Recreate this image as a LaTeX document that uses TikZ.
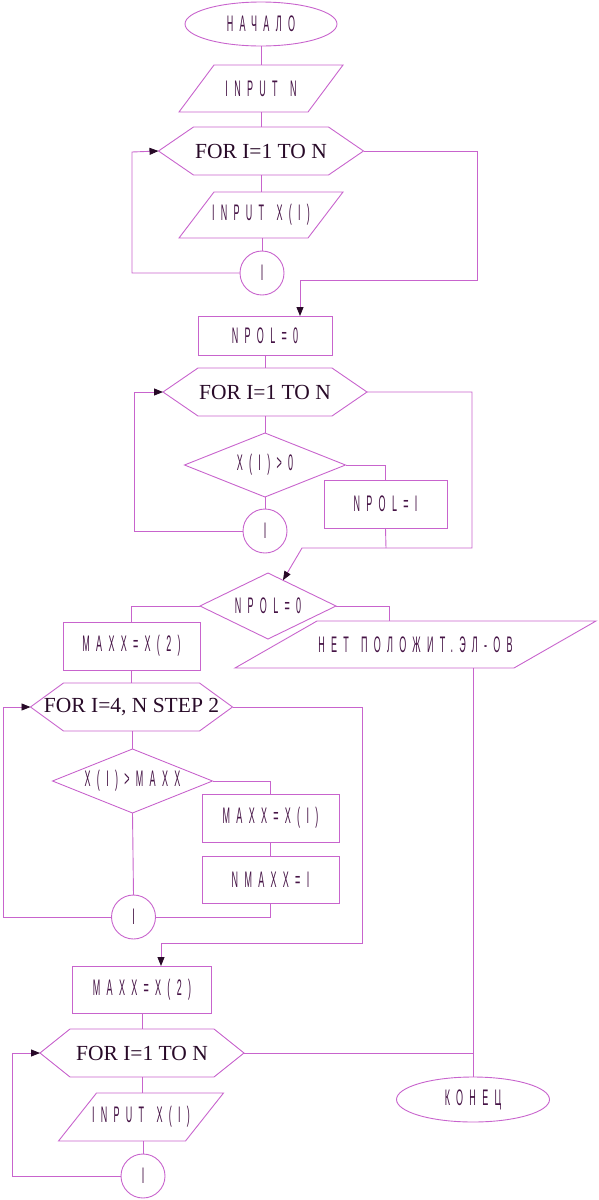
\documentclass[tikz,border=0pt]{standalone}
\usepackage{fontspec}
\setmainfont{Liberation Serif}
\newfontfamily\lblfont[FakeStretch=0.4,LetterSpace=28,WordSpace=1.4]{Liberation Sans}
\usetikzlibrary{arrows.meta,calc,shapes.geometric}
\definecolor{lc}{RGB}{200,100,205}
\definecolor{tc}{RGB}{70,20,70}
\definecolor{ac}{RGB}{40,10,40}
\tikzset{
  base/.style={inner sep=0pt, outer sep=0pt, text=tc, rectangle},
  lbl/.style={base, font=\lblfont\fontsize{22.5}{24}\selectfont},
  forlbl/.style={base, text=ac, font=\fontsize{21.5}{24}\selectfont},
  shp/.style={draw=lc, line width=0.9pt},
  box/.style={lbl, shp},
  oval/.style={lbl, shp, ellipse},
  ring/.style={lbl, shp, circle, minimum size=44},
  conn/.style={draw=lc, line width=0.9pt},
  arr/.style={conn, -{Triangle[length=9pt,width=7pt,color=ac]}},
}
\newcommand\hexdraw[2]{\draw[shp] (#1.west) -- ([xshift=#2]#1.north west) -- ([xshift=-#2]#1.north east) -- (#1.east) -- ([xshift=-#2]#1.south east) -- ([xshift=#2]#1.south west) -- cycle;}
\newcommand\paradraw[2]{\draw[shp] (#1.south west) -- ([xshift=#2]#1.north west) -- (#1.north east) -- ([xshift=-#2]#1.south east) -- cycle;}
\newcommand\diadraw[1]{\draw[shp] (#1.north) -- (#1.east) -- (#1.south) -- (#1.west) -- cycle;}
\begin{document}
\begin{tikzpicture}[x=1pt,y=-1pt]
\useasboundingbox (0,0) rectangle (598,1200);
% column 1
\node[oval, minimum width=152, minimum height=44] (start) at (261,24) {НАЧАЛО};
\node[lbl, minimum width=164, minimum height=47] (in1) at (261,88.5) {INPUT N};
\paradraw{in1}{35}
\node[forlbl, minimum width=205, minimum height=48] (for1) at (261,151) {FOR I=1 TO N};
\hexdraw{for1}{35}
\node[lbl, minimum width=164, minimum height=46] (inx1) at (261,215) {INPUT X(I)};
\paradraw{inx1}{35}
\node[ring] (c1) at (262,273) {I};
% column 2
\node[box, minimum width=134, minimum height=39] (npol0) at (265,335.5) {NPOL=0};
\node[forlbl, minimum width=204, minimum height=48] (for2) at (265,392) {FOR I=1 TO N};
\hexdraw{for2}{35}
\node[lbl, minimum width=161, minimum height=64] (d1) at (265,465) {X(I)>0};
\diadraw{d1}
\node[ring] (c2) at (265,531) {I};
\node[box, minimum width=123, minimum height=48] (npolI) at (385.5,504) {NPOL=I};
% decision NPOL=0
\node[lbl, minimum width=136, minimum height=66] (d2) at (268,606) {NPOL=0};
\diadraw{d2}
\node[lbl, minimum width=361, minimum height=47] (err) at (415.5,644.5) {НЕТ ПОЛОЖИТ.ЭЛ-ОВ};
\paradraw{err}{82}
% column 4
\node[box, minimum width=137, minimum height=48] (mx1) at (131.5,646) {MAXX=X(2)};
\node[forlbl, minimum width=202, minimum height=48] (for3) at (131.5,707) {FOR I=4, N STEP 2};
\hexdraw{for3}{33}
\node[lbl, minimum width=160, minimum height=64] (d3) at (132.5,781) {X(I)>MAXX};
\diadraw{d3}
\node[box, minimum width=137, minimum height=48] (mxi) at (270.5,818) {MAXX=X(I)};
\node[box, minimum width=137, minimum height=47] (nmx) at (270.5,879.5) {NMAXX=I};
\node[ring] (c3) at (133.5,917) {I};
% column 6
\node[box, minimum width=139, minimum height=47] (mx2) at (142,989.5) {MAXX=X(2)};
\node[forlbl, minimum width=204, minimum height=48] (for4) at (142,1053) {FOR I=1 TO N};
\hexdraw{for4}{30}
\node[lbl, minimum width=165, minimum height=48] (inx2) at (141,1117) {INPUT X(I)};
\paradraw{inx2}{38}
\node[ring] (c4) at (143,1176) {I};
\node[oval, minimum width=153, minimum height=45] (end) at (473,1099.5) {КОНЕЦ};
% coordinates
\coordinate (l1) at (132,152);
\coordinate (r1) at (477,280);
\coordinate (j1) at (300,280);
\coordinate (l2) at (134,392);
\coordinate (m2) at (386,548);
\coordinate (r2) at (472,548);
\coordinate (j2) at (302,548);
\coordinate (e1) at (389,606);
\coordinate (e2) at (473,668);
\coordinate (l3) at (3,707);
\coordinate (r3) at (362,943);
\coordinate (j3) at (161,943);
\coordinate (l4) at (12,1053);
% connectors column 1
\draw[conn] (start.south) -- (start.south |- in1.north);
\draw[conn] (for1.north |- in1.south) -- (for1.north);
\draw[conn] (for1.south) -- (for1.south |- inx1.north);
\draw[conn] (c1.north |- inx1.south) -- (c1.north);
\draw[arr] (c1.west) -| (l1) -- (for1.west);
\draw[arr] (for1.east) -| (r1) -- (j1) -- (j1 |- npol0.north);
% column 2
\draw[conn] (npol0.south) -- (for2.north);
\draw[conn] (for2.south) -- (d1.north);
\draw[conn] (d1.south) -- (c2.north);
\draw[conn] (d1.east) -| (npolI.north);
\draw[arr] (c2.west) -| (l2) -- (for2.west);
\draw[conn] (npolI.south) -- (m2);
\draw[arr] (for2.east) -| (r2) -- (j2) -- ($(d2.north)!0.22!(d2.east)$);
% decision
\draw[conn] (d2.west) -| (mx1.north);
\draw[conn] (d2.east) -- (e1) -- (e1 |- err.north);
\draw[conn] (e2) -- (e2 |- end.north);
% column 4
\draw[conn] (mx1.south) -- (mx1.south |- for3.north);
\draw[conn] (d3.north |- for3.south) -- (d3.north);
\draw[conn] (d3.south) -- (c3.north);
\draw[conn] (d3.east) -| (mxi.north);
\draw[conn] (mxi.south) -- (nmx.north);
\draw[conn] (nmx.south) |- (c3.east);
\draw[arr] (c3.west) -| (l3) -- (for3.west);
\draw[arr] (for3.east) -| (r3) -- (j3) -- (j3 |- mx2.north);
% column 6
\draw[conn] (mx2.south) -- (mx2.south |- for4.north);
\draw[conn] (for4.south) -- (for4.south |- inx2.north);
\draw[conn] (c4.north |- inx2.south) -- (c4.north);
\draw[arr] (c4.west) -| (l4) -- (for4.west);
\draw[conn] (for4.east) -- (for4.east -| e2);
\end{tikzpicture}
\end{document}
